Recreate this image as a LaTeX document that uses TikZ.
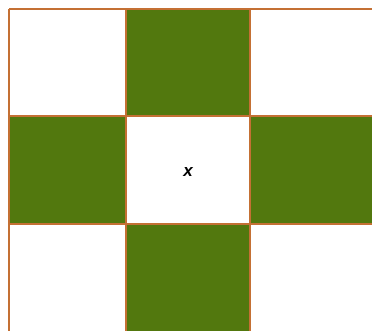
\documentclass[tikz,border=0pt]{standalone}
\usepackage{fontspec}
\setsansfont{Liberation Sans}
\usepackage{tikz}

\definecolor{cellgreen}{RGB}{82,120,14}
\definecolor{gridline}{RGB}{196,112,52}

\begin{document}
\begin{tikzpicture}[
  x=1pt, y=-1pt,
  font=\sffamily,
  greencell/.style={fill=cellgreen, draw=none},
  gridln/.style={draw=gridline, line width=1.3pt},
  lbl/.style={font=\sffamily\bfseries\itshape\fontsize{17}{19}\selectfont, inner sep=0pt}
]
\useasboundingbox (0,0) rectangle (372,330);
\fill[white] (0,0) rectangle (372,330);
% green cells
\fill[greencell] (126,9) rectangle (250,116);
\fill[greencell] (9,116) rectangle (126,224);
\fill[greencell] (250,116) rectangle (374,224);
\fill[greencell] (126,224) rectangle (250,332);
% grid lines
\foreach \xx in {9,126,250} \draw[gridln] (\xx,9) -- (\xx,332);
\foreach \yy in {9,116,224} \draw[gridln] (9,\yy) -- (374,\yy);
\node[lbl] (xmark) at (188,172) {x};
\end{tikzpicture}
\end{document}
